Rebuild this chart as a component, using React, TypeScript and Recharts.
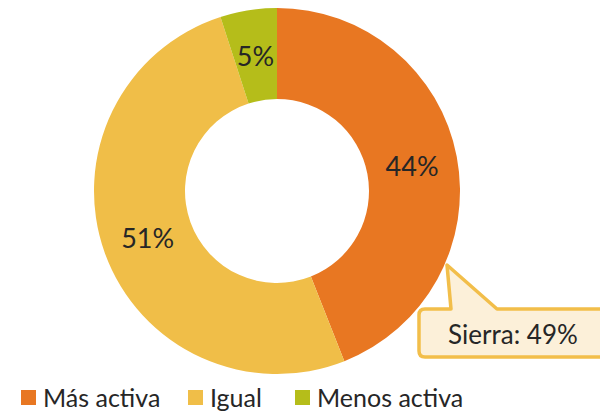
import React from "react";
import { PieChart, Pie, Cell, Legend } from "recharts";

const categories = ["Más activa", "Igual", "Menos activa"];
const values = [44, 51, 5];
const colors = ["#E87722", "#F0BE48", "#B5BD1A"];
const calloutText = "Sierra: 49%";

const data = categories.map((name, i) => ({ name, value: values[i] }));

const FONT = "Lato, 'Open Sans', sans-serif";
const RAD = Math.PI / 180;
const legendWidths = [167, 107, 200];

const renderLabel = (props: any) => {
  const { cx, cy, midAngle, innerRadius, outerRadius, value } = props;
  const r = (innerRadius + outerRadius) / 2;
  const x = cx + r * Math.cos(-midAngle * RAD);
  const y = cy + r * Math.sin(-midAngle * RAD);
  return (
    <text
      x={x}
      y={y}
      textAnchor="middle"
      dominantBaseline="central"
      fill="#262626"
      fontSize={27}
      fontFamily={FONT}
    >
      {`${value}%`}
    </text>
  );
};

const renderLegend = () => (
  <div
    style={{
      display: "flex",
      alignItems: "center",
      fontFamily: FONT,
      fontSize: 25,
      color: "#262626",
      paddingLeft: 21,
    }}
  >
    {categories.map((c, i) => (
      <div
        key={c}
        style={{
          display: "flex",
          alignItems: "center",
          width: legendWidths[i],
        }}
      >
        <div
          style={{
            width: 15,
            height: 15,
            background: colors[i],
            marginRight: 7,
            flexShrink: 0,
          }}
        />
        <span style={{ lineHeight: "28px", whiteSpace: "nowrap" }}>{c}</span>
      </div>
    ))}
  </div>
);

export default function App() {
  return (
    <div
      style={{
        position: "absolute",
        left: 0,
        top: 0,
        width: 600,
        height: 412,
        background: "white",
        overflow: "hidden",
      }}
    >
      <PieChart width={600} height={412} margin={{ top: 0, right: 0, bottom: 0, left: 0 }}>
        <Pie
          data={data}
          dataKey="value"
          cx={277}
          cy={191}
          innerRadius={92}
          outerRadius={183}
          startAngle={90}
          endAngle={-270}
          stroke="none"
          label={renderLabel}
          labelLine={false}
          isAnimationActive={false}
        >
          {data.map((d, i) => (
            <Cell key={d.name} fill={colors[i]} />
          ))}
        </Pie>
        <Legend
          verticalAlign="bottom"
          align="left"
          content={renderLegend}
          wrapperStyle={{ left: 0, bottom: 1, width: 600 }}
        />
      </PieChart>
      <svg
        width={600}
        height={412}
        style={{ position: "absolute", left: 0, top: 0, pointerEvents: "none" }}
      >
        <path
          d="M 425 309 L 451 309 L 447 265 L 497 309 L 610 309 L 610 357 L 425 357 Q 419 357 419 351 L 419 315 Q 419 309 425 309 Z"
          fill="#FCF0D9"
          stroke="#F2BE4A"
          strokeWidth={3.5}
          strokeLinejoin="round"
        />
        <text
          x={513}
          y={334}
          textAnchor="middle"
          dominantBaseline="central"
          fill="#262626"
          fontSize={26}
          fontFamily={FONT}
        >
          {calloutText}
        </text>
      </svg>
    </div>
  );
}
